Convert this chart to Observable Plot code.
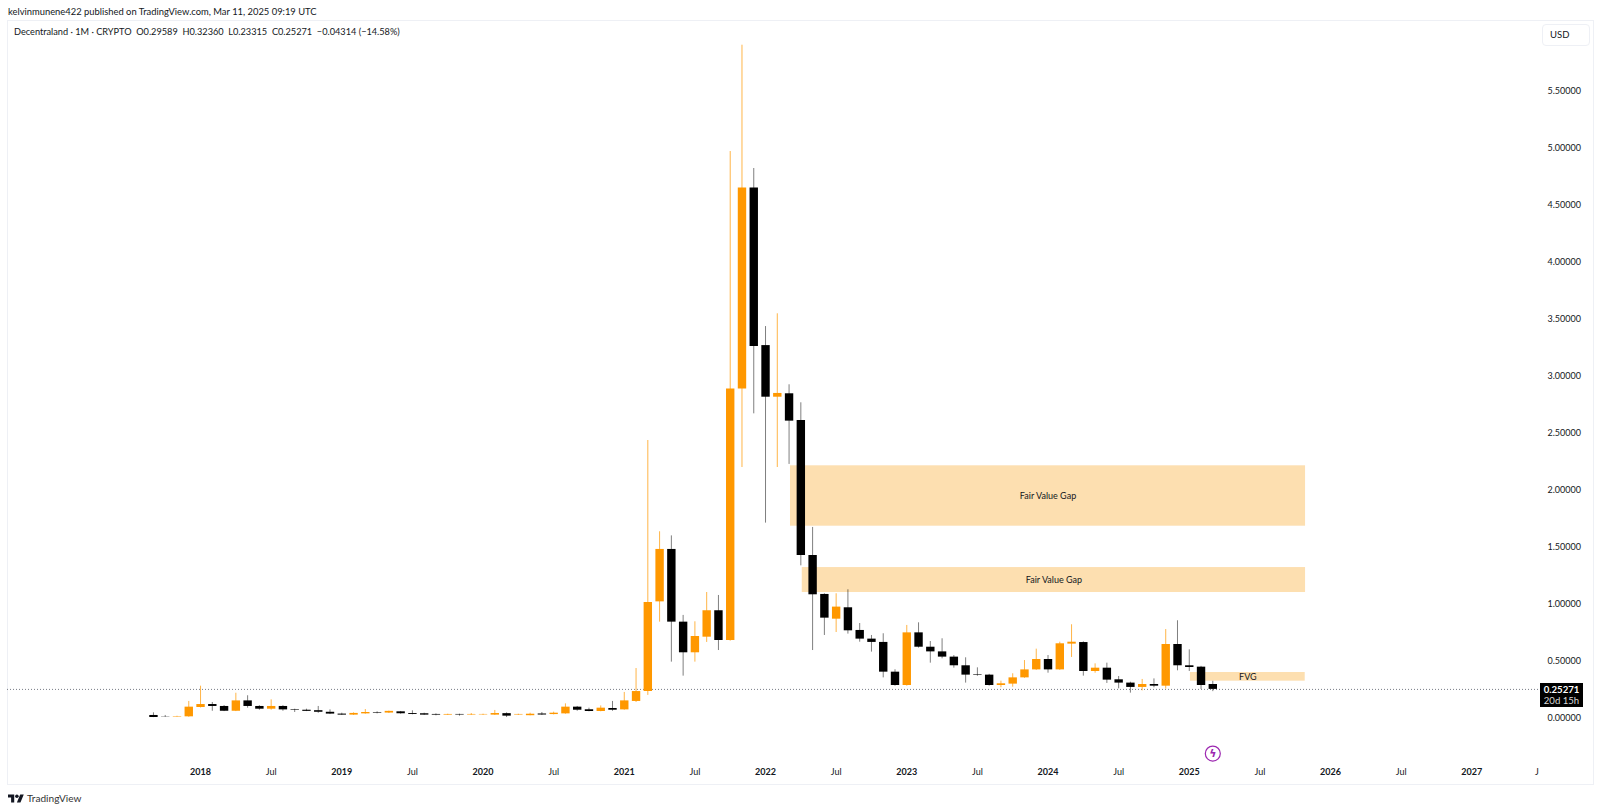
<!DOCTYPE html>
<html>
<head>
<meta charset="utf-8">
<script src="https://cdn.jsdelivr.net/npm/d3@7"></script>
<script src="https://cdn.jsdelivr.net/npm/@observablehq/plot@0.6"></script>
<style>
  html, body { margin: 0; padding: 0; background: #fff; overflow: hidden; }
  body { width: 1600px; height: 812px; position: relative; font-family: Lato, "Noto Sans", sans-serif; color: #131722; }
  #publisher { position: absolute; left: 8px; top: 5px; font-size: 9.4px; line-height: 14px; white-space: nowrap; }
  #pane { position: absolute; left: 7px; top: 20px; width: 1585px; height: 763px; border: 1px solid #eef0f5; }
  #chart { position: absolute; left: 0; top: 20px; }
  #legend { position: absolute; left: 14px; top: 25px; font-size: 9.2px; line-height: 14px; white-space: pre; }
  #usd { position: absolute; left: 1542px; top: 24px; width: 46px; height: 20px; border: 1px solid #eef0f5; border-radius: 4px; font-size: 9.5px; line-height: 20px; text-indent: 7px; background: #fff; box-sizing: content-box; }
  #last { position: absolute; left: 1540px; width: 43px; height: 24px; background: #000; color: #fff; font-size: 9.6px; line-height: 11.5px; text-align: center; padding-top: 0; }
  #last b { font-weight: 700; display: block; padding-top: 1px; }
  #last span { color: #d8d8d8; display: block; }
  #brand { position: absolute; left: 8px; top: 792px; display: flex; align-items: center; gap: 3px; font-size: 10.1px; line-height: 12px; color: #333; }
</style>
</head>
<body>
<div id="publisher">kelvinmunene422 published on TradingView.com, Mar 11, 2025 09:19 UTC</div>
<div id="pane"></div>
<div id="chart"></div>
<div id="legend">Decentraland · 1M · CRYPTO  O0.29589  H0.32360  L0.23315  C0.25271  −0.04314 (−14.58%)</div>
<div id="usd">USD</div>
<div id="last"><b>0.25271</b><span>20d 15h</span></div>
<div id="brand">
  <svg width="16" height="9" viewBox="0 3 36 20"><path fill="#131722" d="M14 22H7V11H0V4h14v18zM28 22h-8l7.5-18h8L28 22z"/><circle fill="#131722" cx="20" cy="8" r="4"/></svg>
  <span>TradingView</span>
</div>
<script>
// Monthly candles, first candle is Sep 2017 (month -4 counted from Jan 2018)
const firstMonth = -4;
const opens = [
  .024,.012,.010,.012,.094,.120,.103,.061,.152,.103,.079,.103,.075,.070,.066,.052,.036,.027,.038,.050,.045,
  .056,.041,.039,.033,.027,.033,.028,.029,.027,.040,.028,.022,.037,.032,.038,.097,.074,.059,.085,.073,.147,
  .234,1.021,1.481,.843,.574,.711,.943,.682,2.888,4.654,3.270,2.817,2.847,2.613,1.428,1.086,.869,.969,.770,.694,.665,
  .404,.287,.749,.623,.582,.536,.460,.380,.378,.287,.299,.354,.424,.515,.424,.650,.664,.410,.439,.337,.308,.270,.296,.281,.647,.460,.448,.29589
];
const highs = [
  .047,.024,.017,.147,.281,.138,.111,.219,.197,.110,.161,.110,.079,.079,.103,.073,.044,.047,.076,.056,.062,
  .059,.065,.044,.038,.035,.035,.041,.035,.068,.047,.035,.044,.050,.053,.126,.103,.088,.108,.147,.226,.436,
  2.437,1.636,1.600,.902,.846,1.103,1.077,4.973,5.906,4.824,3.437,3.549,2.926,2.768,1.674,1.092,1.092,1.127,.831,.726,.741,
  .425,.814,.837,.673,.697,.550,.530,.442,.385,.325,.390,.506,.606,.550,.667,.820,.670,.477,.483,.366,.316,.340,.345,.778,.855,.600,.455,.3236
];
const lows = [
  .005,.008,.009,.008,.090,.061,.058,.058,.088,.070,.070,.061,.050,.058,.043,.032,.024,.024,.035,.038,.041,
  .035,.030,.024,.021,.024,.018,.024,.024,.024,.006,.024,.021,.024,.029,.035,.061,.056,.056,.061,.070,.138,
  .200,.843,.492,.369,.492,.665,.594,.676,2.200,2.671,1.712,2.200,2.227,1.337,.594,.726,.752,.738,.667,.580,.354,
  .281,.281,.615,.483,.521,.439,.308,.368,.281,.267,.272,.350,.420,.395,.420,.533,.369,.395,.305,.258,.220,.240,.267,.255,.416,.410,.252,.23315
];
const closes = [
  .006,.010,.014,.097,.120,.103,.061,.152,.103,.079,.103,.073,.070,.060,.052,.036,.027,.042,.050,.045,.060,
  .039,.033,.027,.027,.033,.028,.033,.033,.041,.018,.033,.035,.028,.044,.097,.070,.059,.088,.070,.152,.234,
  1.016,1.481,.843,.574,.717,.943,.682,2.888,4.654,3.262,2.817,2.850,2.607,1.428,1.083,.878,.975,.767,.694,.665,.404,
  .287,.749,.623,.582,.536,.460,.378,.375,.287,.302,.354,.424,.515,.424,.653,.667,.410,.439,.334,.308,.270,.296,.281,.647,.460,.445,.287,.25271
];
const candles = opens.map((o, i) => ({month: firstMonth + i, open: o, high: highs[i], low: lows[i], close: closes[i]}));

const zoneLabels = ["Fair Value Gap", "Fair Value Gap", "FVG"];
const zoneStart = [50.12, 51.12, 84.1];
const zoneEnd   = [93.88, 93.88, 93.85];
const zoneTop   = [2.215, 1.322, .401];
const zoneBottom= [1.685, 1.103, .325];
const zones = zoneLabels.map((label, i) => ({label, x1: zoneStart[i], x2: zoneEnd[i], y1: zoneBottom[i], y2: zoneTop[i]}));

const yearTicks = [0,12,24,36,48,60,72,84,96,108];
const yearLabels = ["2018","2019","2020","2021","2022","2023","2024","2025","2026","2027"];
const monthTicks = [6,18,30,42,54,66,78,90,102,113.54];
const monthLabels = ["Jul","Jul","Jul","Jul","Jul","Jul","Jul","Jul","Jul","J"];
const priceTicks = [0,.5,1,1.5,2,2.5,3,3.5,4,4.5,5,5.5];
const lastClose = closes[closes.length - 1];
const eventMonth = 86, eventLevel = -0.31;

const up = "#FF9800", down = "#000000";
const colorOf = d => d.close >= d.open ? up : down;
const axisFont = "Lato, 'Noto Sans', sans-serif";

const plot = Plot.plot({
  width: 1600, height: 764,
  marginLeft: 7, marginRight: 60, marginTop: 0, marginBottom: 24,
  style: {background: "transparent", fontFamily: axisFont, overflow: "visible"},
  x: {type: "linear", domain: [-16.4, 113.84], axis: null},
  y: {type: "linear", domain: [-0.3712, 6.1229], axis: null},
  marks: [
    Plot.rect(zones, {x1: "x1", x2: "x2", y1: "y1", y2: "y2", fill: "#FDDFB0"}),
    Plot.text(zones, {x: d => (d.x1 + d.x2) / 2, y: d => (d.y1 + d.y2) / 2, text: "label", fill: "#131722", fontSize: 9}),
    Plot.ruleY([lastClose], {stroke: "#777b86", strokeDasharray: "1,2", strokeWidth: 1}),
    Plot.ruleX(candles, {x: "month", y1: "low", y2: "high", stroke: colorOf, strokeWidth: 1, strokeOpacity: d => d.close >= d.open ? .72 : .5}),
    Plot.ruleX(candles, {x: "month", y1: "open", y2: "close", stroke: colorOf, strokeWidth: 8.4}),
    Plot.dot([eventMonth], {x: d => d, y: () => eventLevel, r: 7.5, stroke: "#9C27B0", strokeWidth: 1.2, fill: "#fff"}),
    Plot.text([eventMonth], {x: d => d, y: () => eventLevel, text: () => "ϟ", fill: "#9C27B0", fontSize: 11, fontWeight: 700, fontFamily: "DejaVu Sans"}),
    Plot.axisX(yearTicks, {anchor: "bottom", tickSize: 0, tickPadding: 8, fontWeight: 700, fontSize: 9, fill: "#131722", label: null,
      tickFormat: d => yearLabels[yearTicks.indexOf(d)]}),
    Plot.axisX(monthTicks, {anchor: "bottom", tickSize: 0, tickPadding: 8, fontSize: 9, fill: "#131722", label: null,
      tickFormat: d => monthLabels[monthTicks.indexOf(d)]}),
    Plot.axisY(priceTicks, {anchor: "right", tickSize: 0, tickPadding: 7, fontSize: 9, fill: "#131722", label: null,
      tickFormat: d => d.toFixed(5)})
  ]
});
document.getElementById("chart").appendChild(plot);
document.getElementById("last").style.top = (20 + plot.scale("y").apply(lastClose) - 6) + "px";
</script>
</body>
</html>
